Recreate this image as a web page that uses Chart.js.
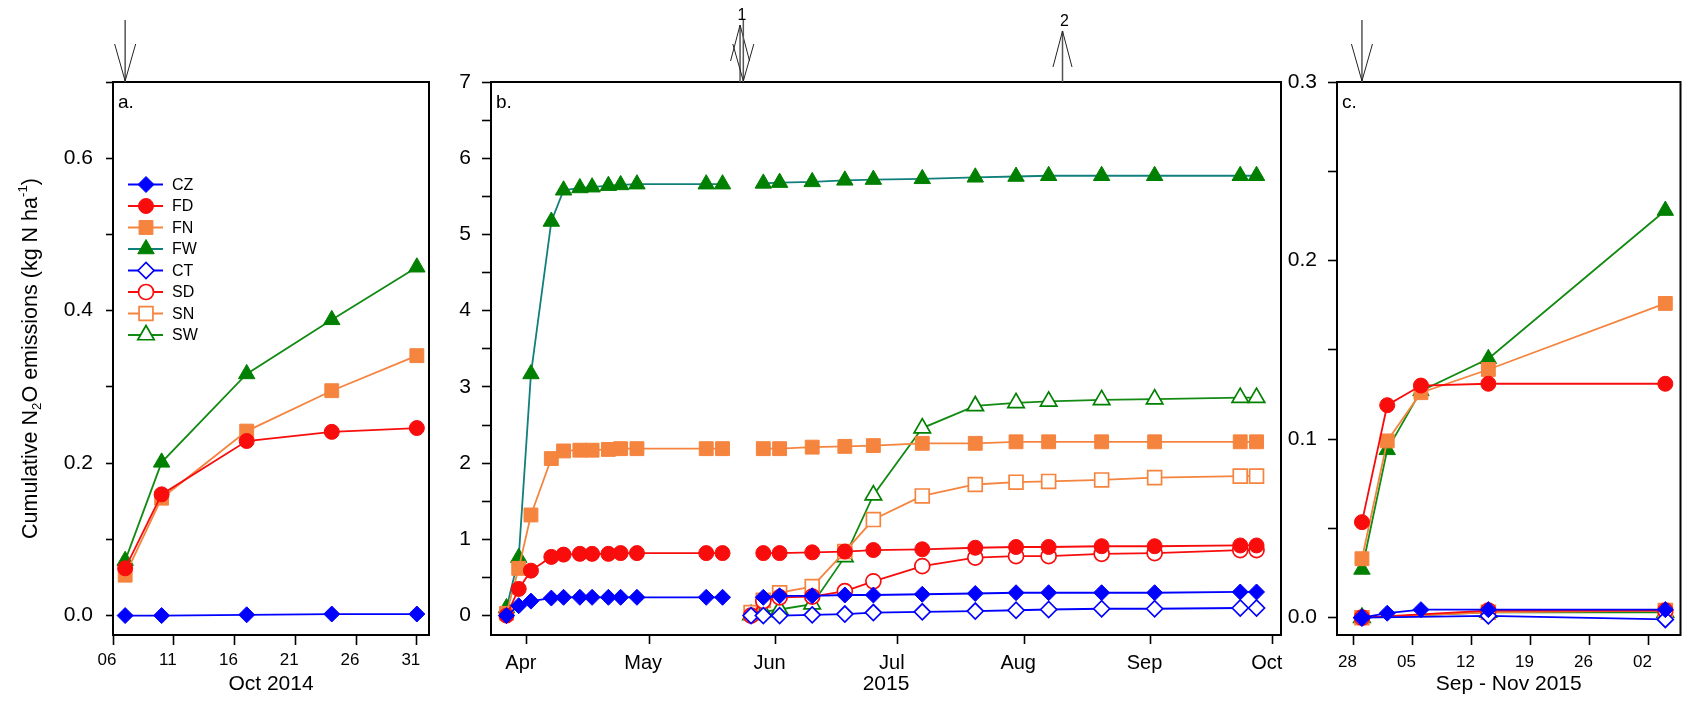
<!DOCTYPE html>
<html>
<head>
<meta charset="utf-8">
<script src="https://cdn.jsdelivr.net/npm/chart.js@4.4.1/dist/chart.umd.min.js"></script>
<style>
  html, body { margin: 0; padding: 0; background: #ffffff; }
  body { width: 1692px; height: 702px; position: relative; overflow: hidden; }
  canvas { position: absolute; top: 0; }
  #panelA { left: 0; }
  #panelB { left: 440px; }
  #panelC { left: 1270px; }
</style>
</head>
<body>
<canvas id="panelA" width="440" height="702"></canvas>
<canvas id="panelB" width="860" height="702"></canvas>
<canvas id="panelC" width="422" height="702"></canvas>
<script>
// ---------- Panel a: October 2014 (x = day of month) ----------
const daysA = [7, 10, 17, 24, 31];
const czA = [0.000, 0.000, 0.001, 0.002, 0.002];
const fdA = [0.062, 0.159, 0.229, 0.241, 0.246];
const fnA = [0.053, 0.154, 0.242, 0.295, 0.341];
const fwA = [0.072, 0.201, 0.317, 0.388, 0.457];
const xTicksA = [6, 11, 16, 21, 26, 31];
const xLabelsA = ['06', '11', '16', '21', '26', '31'];
const yTicksA = [0, 0.1, 0.2, 0.3, 0.4, 0.5, 0.6, 0.7];
const yLabelsA = ['0.0', '', '0.2', '', '0.4', '', '0.6', ''];
const arrowsA = [{ day: 7, dir: 'down', label: '' }];

// ---------- Panel b: 2015 season (x = day of year 2015) ----------
// fertilised plots; null marks the break in sampling
const daysBF = [86, 89, 92, 97, 100, 104, 107, 111, 114, 118, 135, 139, 144, 149, 153, 161, 169, 176, 188, 201, 211, 219, 232, 245, 266, 270];
const czB = [0.00, 0.13, 0.19, 0.23, 0.24, 0.24, 0.24, 0.24, 0.24, 0.24, 0.24, 0.24, null, 0.24, 0.26, 0.26, 0.27, 0.27, 0.28, 0.29, 0.30, 0.30, 0.30, 0.30, 0.31, 0.31];
const fdB = [0.00, 0.35, 0.59, 0.77, 0.80, 0.81, 0.81, 0.81, 0.82, 0.82, 0.82, 0.82, null, 0.82, 0.82, 0.83, 0.84, 0.86, 0.87, 0.89, 0.90, 0.90, 0.91, 0.91, 0.92, 0.92];
const fnB = [0.03, 0.62, 1.32, 2.06, 2.16, 2.17, 2.17, 2.18, 2.19, 2.19, 2.19, 2.19, null, 2.19, 2.19, 2.21, 2.22, 2.23, 2.26, 2.26, 2.28, 2.28, 2.28, 2.28, 2.28, 2.28];
const fwB = [0.10, 0.76, 3.17, 5.17, 5.58, 5.61, 5.62, 5.64, 5.65, 5.66, 5.66, 5.66, null, 5.67, 5.68, 5.69, 5.71, 5.72, 5.73, 5.75, 5.76, 5.77, 5.77, 5.77, 5.77, 5.77];
// second set of plots, sampled from late May
const daysBS = [146, 149, 153, 161, 169, 176, 188, 201, 211, 219, 232, 245, 266, 270];
const ctB = [0.00, 0.00, 0.00, 0.01, 0.02, 0.04, 0.05, 0.06, 0.07, 0.08, 0.09, 0.09, 0.10, 0.10];
const sdB = [0.00, 0.19, 0.24, 0.25, 0.32, 0.45, 0.65, 0.76, 0.78, 0.78, 0.81, 0.82, 0.86, 0.86];
const snB = [0.04, 0.20, 0.30, 0.38, 0.84, 1.26, 1.57, 1.72, 1.75, 1.76, 1.78, 1.81, 1.83, 1.83];
const swB = [0.01, 0.05, 0.08, 0.15, 0.77, 1.58, 2.46, 2.75, 2.79, 2.81, 2.83, 2.84, 2.86, 2.86];
const xTicksB = [91, 121, 152, 182, 213, 244, 274];
const xLabelsB = ['Apr', 'May', 'Jun', 'Jul', 'Aug', 'Sep', 'Oct'];
const yTicksB = [0, 0.5, 1, 1.5, 2, 2.5, 3, 3.5, 4, 4.5, 5, 5.5, 6, 6.5, 7];
const yLabelsB = ['0', '', '1', '', '2', '', '3', '', '4', '', '5', '', '6', '', '7'];
const arrowsB = [
  { day: 143.3, dir: 'up', label: '1' },
  { day: 144.1, dir: 'down', label: '' },
  { day: 222.4, dir: 'up', label: '2' }
];

// ---------- Panel c: Sep - Nov 2015 (x = day of year 2015) ----------
const daysC = [272, 275, 279, 287, 308];
const czC = [0.0000, 0.0025, 0.0045, 0.0045, 0.0045];
const fdC = [0.0535, 0.119, 0.130, 0.131, 0.131];
const fnC = [0.033, 0.099, 0.126, 0.139, 0.176];
const fwC = [0.027, 0.094, 0.127, 0.145, 0.228];
const daysCS = [272, 287, 308];
const ctC = [0.000, 0.001, -0.001];
const sdC = [0.000, 0.004, 0.004];
const snC = [0.000, 0.003, 0.004];
const swC = [0.000, 0.003, 0.003];
const xTicksC = [271, 278, 285, 292, 299, 306];
const xLabelsC = ['28', '05', '12', '19', '26', '02'];
const yTicksC = [0, 0.05, 0.1, 0.15, 0.2, 0.25, 0.3];
const yLabelsC = ['0.0', '', '0.1', '', '0.2', '', '0.3'];
const arrowsC = [{ day: 272, dir: 'down', label: '' }];

const legendOrder = ['CZ', 'FD', 'FN', 'FW', 'CT', 'SD', 'SN', 'SW'];

// ---------- styling ----------
const FONT = 'Arial, "Liberation Sans", Helvetica, sans-serif';
Chart.defaults.font.family = FONT;
Chart.defaults.color = '#000';

const BLUE = '#0000ff', RED = '#f80c0c', ORANGE = '#f5843f', GREEN = '#008000';
const STYLE = {
  CZ: { color: BLUE,   line: BLUE,      point: 'rectRot',  r: 8,   filled: true },
  FD: { color: RED,    line: RED,       point: 'circle',   r: 7.5, filled: true },
  FN: { color: ORANGE, line: ORANGE,    point: 'rect',     r: 9.8, filled: true },
  FW: { color: GREEN,  line: '#11807c', point: 'triangle', r: 9.5, filled: true },
  CT: { color: BLUE,   line: BLUE,      point: 'rectRot',  r: 8,   filled: false },
  SD: { color: RED,    line: RED,       point: 'circle',   r: 7.5, filled: false },
  SN: { color: ORANGE, line: ORANGE,    point: 'rect',     r: 9.8, filled: false },
  SW: { color: GREEN,  line: '#138a13', point: 'triangle', r: 9.5, filled: false }
};

function series(name, days, values, lineColor) {
  const s = STYLE[name];
  return {
    label: name,
    data: days.map((d, i) => ({ x: d, y: values[i] })),
    borderColor: lineColor || s.line,
    borderWidth: 1.8,
    pointStyle: s.point,
    pointRadius: s.r,
    pointHoverRadius: s.r,
    pointBorderColor: s.color,
    pointBackgroundColor: s.filled ? s.color : '#ffffff',
    pointBorderWidth: s.filled ? 1 : 1.7,
    tension: 0,
    spanGaps: false,
    fill: false
  };
}

function marker(ctx, name, x, y) {
  const s = STYLE[name];
  ctx.save();
  ctx.fillStyle = s.filled ? s.color : '#ffffff';
  ctx.strokeStyle = s.color;
  ctx.lineWidth = s.filled ? 1 : 1.7;
  if (Chart.helpers && Chart.helpers.drawPoint) {
    Chart.helpers.drawPoint(ctx, { pointStyle: s.point, radius: s.r, rotation: 0, borderWidth: ctx.lineWidth }, x, y);
  }
  ctx.restore();
}

// frame around the plotting area, panel letter and event arrows
const framePlugin = {
  id: 'frame',
  afterDraw(chart, args, opts) {
    const { ctx, chartArea: a } = chart;
    ctx.save();
    ctx.strokeStyle = '#000';
    ctx.lineWidth = 2;
    ctx.strokeRect(a.left, a.top, a.right - a.left, a.bottom - a.top);
    ctx.fillStyle = '#000';
    ctx.font = '19px ' + FONT;
    ctx.textBaseline = 'middle';
    ctx.textAlign = 'left';
    ctx.fillText(opts.letter, a.left + 5, a.top + 21);

    (opts.arrows || []).forEach(ev => {
      const x = chart.scales.x.getPixelForValue(ev.day);
      ctx.strokeStyle = '#555';
      ctx.lineWidth = 1.5;
      if (ev.dir === 'down') {
        const tip = a.top;
        ctx.beginPath(); ctx.moveTo(x, 20); ctx.lineTo(x, tip); ctx.stroke();
        ctx.strokeStyle = '#222'; ctx.lineWidth = 1;
        ctx.beginPath();
        ctx.moveTo(x - 10.5, tip - 38); ctx.lineTo(x, tip - 1); ctx.lineTo(x + 10.5, tip - 38);
        ctx.stroke();
      } else {
        const tip = ev.label === '1' ? 25 : 31;
        ctx.beginPath(); ctx.moveTo(x, tip); ctx.lineTo(x, a.top); ctx.stroke();
        ctx.strokeStyle = '#222'; ctx.lineWidth = 1;
        ctx.beginPath();
        ctx.moveTo(x - 9.5, tip + 36); ctx.lineTo(x, tip); ctx.lineTo(x + 9.5, tip + 36);
        ctx.stroke();
        if (ev.label) {
          ctx.fillStyle = '#000';
          ctx.font = '16px ' + FONT;
          ctx.textAlign = 'center';
          ctx.fillText(ev.label, x + 2, tip - 9);
        }
      }
    });
    ctx.restore();
  }
};

// key for all eight treatments, drawn inside panel a
const keyPlugin = {
  id: 'key',
  afterDraw(chart, args, opts) {
    if (!opts.show) return;
    const { ctx, chartArea: a } = chart;
    ctx.save();
    legendOrder.forEach((name, i) => {
      const y = a.top + 102.5 + i * 21.5;
      const s = STYLE[name];
      ctx.strokeStyle = s.line;
      ctx.lineWidth = 1.8;
      ctx.beginPath(); ctx.moveTo(a.left + 15, y); ctx.lineTo(a.left + 50, y); ctx.stroke();
      marker(ctx, name, a.left + 33, y);
      ctx.fillStyle = '#000';
      ctx.font = '16px ' + FONT;
      ctx.textAlign = 'left';
      ctx.textBaseline = 'middle';
      ctx.fillText(name, a.left + 59, y + 1);
    });
    ctx.restore();
  }
};

// rotated y-axis title with subscript and superscript
const yTitlePlugin = {
  id: 'yTitle',
  afterDraw(chart, args, opts) {
    if (!opts.show) return;
    const { ctx, chartArea: a } = chart;
    const size = 21.5;
    const parts = [
      { t: 'Cumulative N', k: 'n' }, { t: '2', k: 'sub' }, { t: 'O emissions (kg N ha', k: 'n' },
      { t: '-1', k: 'sup' }, { t: ')', k: 'n' }
    ];
    ctx.save();
    ctx.fillStyle = '#000';
    ctx.translate(29, (a.top + a.bottom) / 2);
    ctx.rotate(-Math.PI / 2);
    let total = 0;
    parts.forEach(p => {
      p.size = p.k === 'n' ? size : size * 0.62;
      ctx.font = p.size + 'px ' + FONT;
      p.w = ctx.measureText(p.t).width;
      total += p.w;
    });
    let x = -total / 2;
    ctx.textBaseline = 'alphabetic';
    ctx.textAlign = 'left';
    parts.forEach(p => {
      ctx.font = p.size + 'px ' + FONT;
      let dy = size * 0.36;
      if (p.k === 'sub') dy += size * 0.2;
      if (p.k === 'sup') dy -= size * 0.45;
      ctx.fillText(p.t, x, dy);
      x += p.w;
    });
    ctx.restore();
  }
};

function panel(id, cfg) {
  const fixedTicks = arr => s => { s.ticks = arr.map(v => ({ value: v })); };
  return new Chart(document.getElementById(id), {
    type: 'line',
    data: { datasets: cfg.datasets },
    plugins: [framePlugin, keyPlugin, yTitlePlugin],
    options: {
      responsive: false,
      animation: false,
      devicePixelRatio: 1,
      events: [],
      layout: { padding: { top: 82, right: cfg.padRight, bottom: 0, left: 0 } },
      scales: {
        x: {
          type: 'linear',
          min: cfg.xMin, max: cfg.xMax,
          afterBuildTicks: fixedTicks(cfg.xTicks),
          afterFit: s => { s.height = 67; },
          ticks: {
            callback: (v, i) => cfg.xLabels[i],
            font: { size: cfg.xFont },
            color: '#000',
            padding: cfg.xPad,
            labelOffset: -6,
            maxRotation: 0,
            autoSkip: false
          },
          grid: { display: true, drawOnChartArea: false, drawTicks: true, tickLength: cfg.xTick, tickWidth: 1.6, tickColor: '#000' },
          border: { display: false },
          title: { display: true, text: cfg.xTitle, font: { size: 21 }, color: '#000', padding: { top: 0, bottom: 5 } }
        },
        y: {
          type: 'linear',
          min: cfg.yMin, max: cfg.yMax,
          afterBuildTicks: fixedTicks(cfg.yTicks),
          afterFit: s => { s.width = cfg.yWidth; },
          ticks: {
            callback: (v, i) => cfg.yLabels[i],
            font: { size: 21 },
            color: '#000',
            padding: cfg.yPad,
            autoSkip: false
          },
          grid: { display: true, drawOnChartArea: false, drawTicks: true, tickLength: cfg.yTick, tickWidth: 1.6, tickColor: '#000' },
          border: { display: false }
        }
      },
      plugins: {
        legend: { display: false },
        tooltip: { enabled: false },
        frame: { letter: cfg.letter, arrows: cfg.arrows },
        key: { show: !!cfg.key },
        yTitle: { show: !!cfg.yTitle }
      }
    }
  });
}

panel('panelA', {
  datasets: [
    series('CZ', daysA, czA),
    series('FD', daysA, fdA),
    series('FN', daysA, fnA),
    series('FW', daysA, fwA, '#138a13')
  ],
  xMin: 6, xMax: 32, xTicks: xTicksA, xLabels: xLabelsA, xFont: 17, xPad: 5, xTick: 10, xTitle: 'Oct 2014',
  yMin: -0.0255, yMax: 0.7, yTicks: yTicksA, yLabels: yLabelsA, yWidth: 113, yPad: 13, yTick: 7,
  padRight: 11, letter: 'a.', arrows: arrowsA, key: true, yTitle: true
});

panel('panelB', {
  datasets: [
    series('CZ', daysBF, czB),
    series('FD', daysBF, fdB),
    series('FN', daysBF, fnB),
    series('FW', daysBF, fwB),
    series('CT', daysBS, ctB),
    series('SD', daysBS, sdB),
    series('SN', daysBS, snB),
    series('SW', daysBS, swB)
  ],
  xMin: 82.2, xMax: 276, xTicks: xTicksB, xLabels: xLabelsB, xFont: 20, xPad: 7, xTick: 9, xTitle: '2015',
  yMin: -0.2545, yMax: 7, yTicks: yTicksB, yLabels: yLabelsB, yWidth: 51, yPad: 11, yTick: 9,
  padRight: 19, letter: 'b.', arrows: arrowsB
});

panel('panelC', {
  datasets: [
    series('CZ', daysC, czC),
    series('FD', daysC, fdC),
    series('FN', daysC, fnC),
    series('FW', daysC, fwC, '#138a13'),
    series('CT', daysCS, ctC),
    series('SD', daysCS, sdC),
    series('SN', daysCS, snC),
    series('SW', daysCS, swC)
  ],
  xMin: 269.04, xMax: 309.8, xTicks: xTicksC, xLabels: xLabelsC, xFont: 17, xPad: 7, xTick: 10, xTitle: 'Sep - Nov 2015',
  yMin: -0.0097, yMax: 0.3, yTicks: yTicksC, yLabels: yLabelsC, yWidth: 67, yPad: 11, yTick: 9,
  padRight: 1, letter: 'c.', arrows: arrowsC
});
</script>
</body>
</html>
